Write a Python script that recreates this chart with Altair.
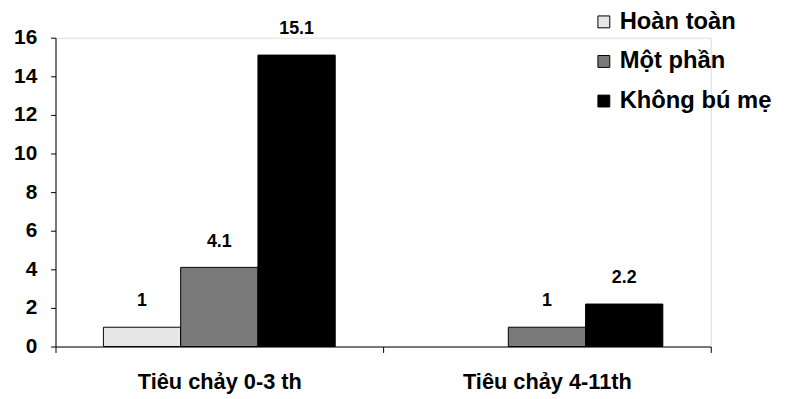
import altair as alt
import pandas as pd

categories = ["Tiêu chảy 0-3 th", "Tiêu chảy 4-11th"]
series = ["Hoàn toàn", "Một phần", "Không bú mẹ"]
values_g1 = [1, 4.1, 15.1]
values_g2 = [None, 1, 2.2]
labels_g1 = ["1", "4.1", "15.1"]
labels_g2 = ["", "1", "2.2"]
colors = ["#e6e6e6", "#7a7a7a", "#000000"]

rows = []
for cat, vals, labs in [(categories[0], values_g1, labels_g1), (categories[1], values_g2, labels_g2)]:
    for s, v, l in zip(series, vals, labs):
        if v is not None:
            rows.append({"cat": cat, "series": s, "value": v, "label": l})
df = pd.DataFrame(rows)

FONT = "Liberation Sans"

x = alt.X("cat:N", sort=categories, title=None,
          scale=alt.Scale(domain=categories, paddingInner=0, paddingOuter=0),
          axis=alt.Axis(labelAngle=0, labelFontSize=22, labelFont=FONT, labelFontWeight="bold",
                        labelColor="black", domainColor="black", tickColor="black",
                        tickSize=6, tickBand="extent", labelPadding=19, domainWidth=1))
xo = alt.XOffset("series:N", sort=series,
                 scale=alt.Scale(domain=series, paddingInner=0, paddingOuter=0.62))
y = alt.Y("value:Q", title=None,
          scale=alt.Scale(domain=[0, 16], nice=False),
          axis=alt.Axis(values=list(range(0, 17, 2)), grid=False, labelFontSize=21, labelFont=FONT,
                        labelFontWeight="bold", labelColor="black", domainColor="black",
                        tickColor="black", tickSize=5, labelPadding=14, domainWidth=1))

bars = alt.Chart(df).mark_bar(stroke="black", strokeWidth=1).encode(
    x=x, xOffset=xo, y=y,
    color=alt.Color("series:N", sort=series,
                    scale=alt.Scale(domain=series, range=colors),
                    legend=alt.Legend(title=None, orient="none", legendX=542, legendY=-28,
                                      symbolType="square", symbolSize=144,
                                      symbolStrokeColor="black", symbolStrokeWidth=1,
                                      labelFontSize=24, labelFont=FONT, labelFontWeight="bold",
                                      labelColor="black", labelOffset=4, rowPadding=16,
                                      symbolOpacity=1))
)

text = alt.Chart(df).mark_text(baseline="bottom", dy=-17, fontSize=18, font=FONT,
                               fontWeight="bold", color="black").encode(
    x=x, xOffset=xo, y=y, text="label:N"
)

chart = alt.layer(bars, text).properties(
    width=662, height=312,
    autosize=alt.AutoSizeParams(type="none"),
    padding={"left": 48, "top": 28, "right": 73, "bottom": 51},
).configure_view(stroke=None).configure(background="white")

chart.save("out.html", embed_options={"renderer": "svg", "actions": False})
